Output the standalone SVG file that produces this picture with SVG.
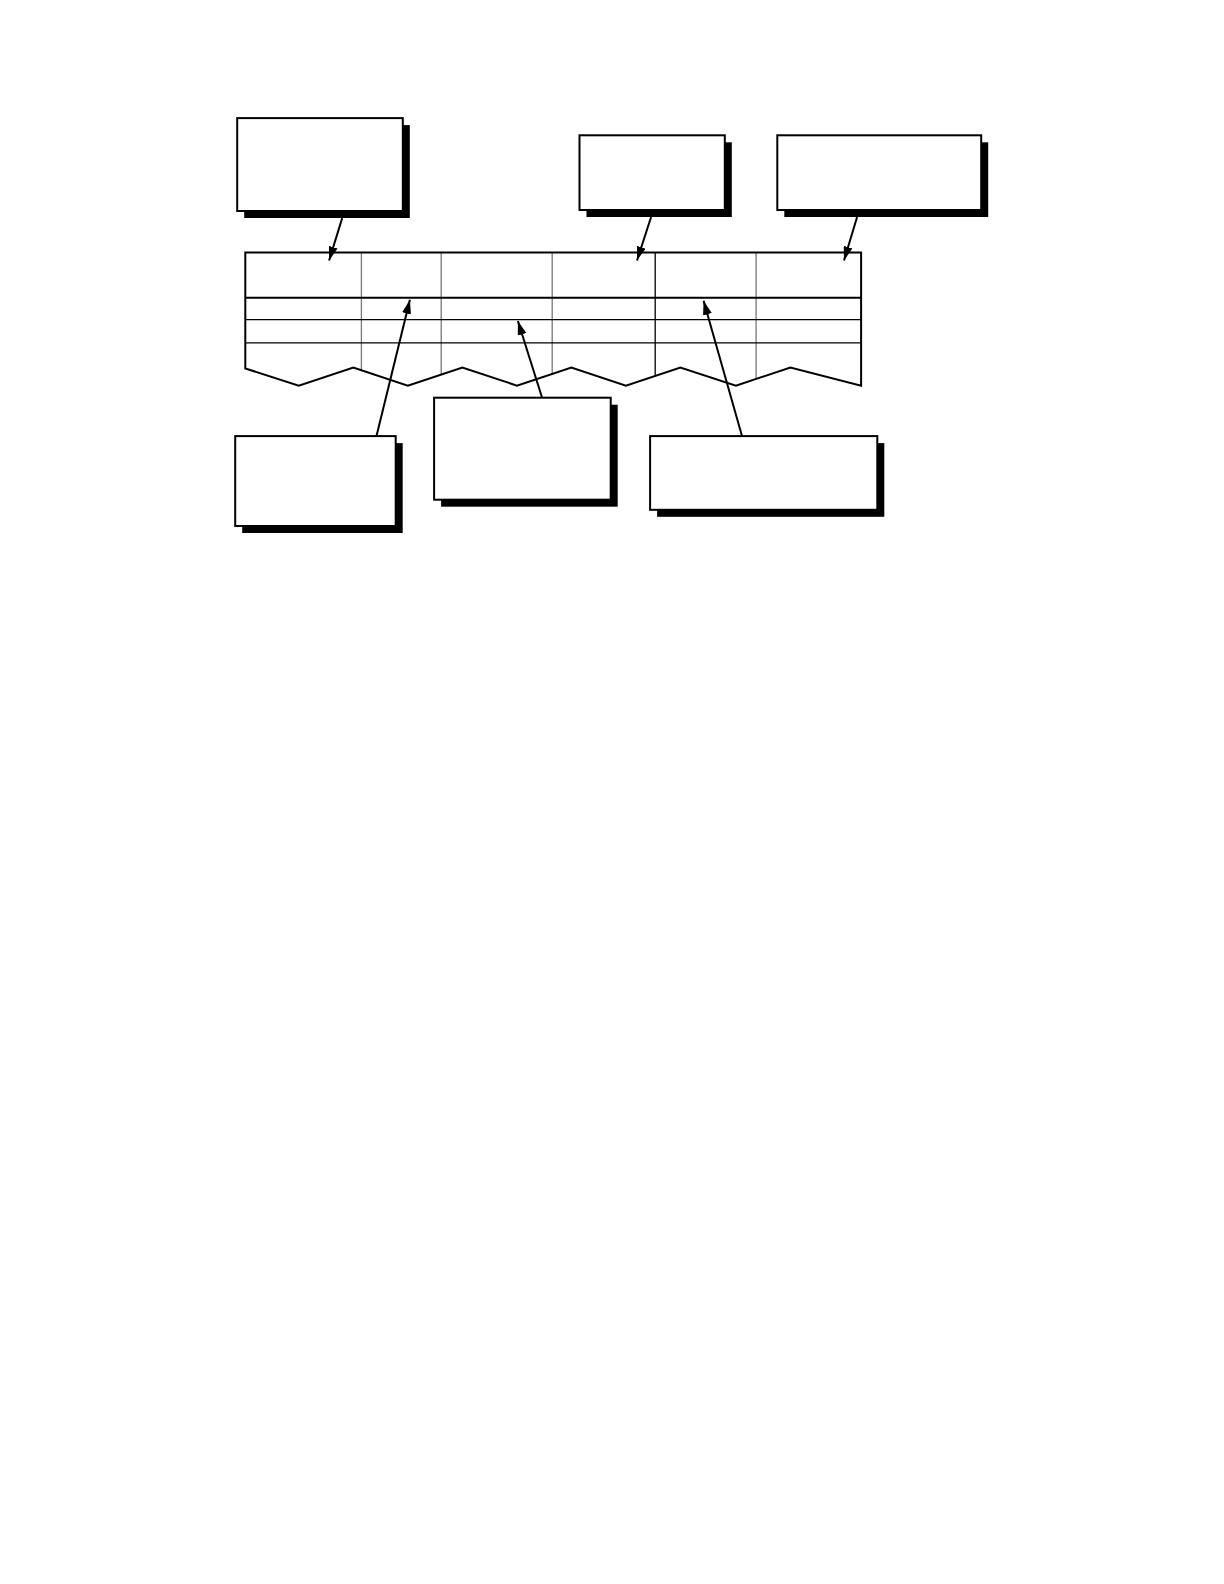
<svg xmlns="http://www.w3.org/2000/svg" width="1224" height="1584" viewBox="0 0 1224 1584">
<style>
.shadow{fill:#000}
.box{fill:#fff;stroke:#000;stroke-width:2}
.grid{stroke:#777;stroke-width:1.3;fill:none}
.hline{stroke:#000;stroke-width:1.3;fill:none}
.outline{stroke:#000;stroke-width:2;fill:none}
.conn{stroke:#000;stroke-width:2;fill:none}
</style>
<defs>
<marker id="ah" viewBox="0 0 14 9" refX="14" refY="4.5" markerWidth="14" markerHeight="9" markerUnits="userSpaceOnUse" orient="auto">
<path d="M0,0 L14,4.5 L0,9 Z" fill="#000"/>
</marker>
</defs>
<rect width="1224" height="1584" fill="#fff"/>
<g id="table">
<path class="grid" d="M361.4,252.4 V370.2 M441.2,252.4 V374.5 M552.2,252.4 V373.8 M756.1,252.4 V378.9"/>
<path class="hline" d="M655.2,252.4 V375.8"/>
<path class="hline" d="M245.3,319.6 H861.1 M245.3,342.8 H861.1"/>
<path class="outline" d="M245.3,297.8 H861.1"/>
<path class="outline" d="M245.3,368.5 V252.4 H861.1 V385.6 L790.4,367.5 L735.9,385.6 L680.4,367.5 L625.9,385.6 L571.4,367.5 L516.9,385.6 L462.4,367.5 L407.8,385.6 L353.3,367.5 L298.8,385.6 Z"/>
</g>
<g id="node1"><rect class="shadow" x="244.2" y="125.1" width="165.6" height="92.9"/><rect class="box" x="237.2" y="118.1" width="165.6" height="92.9"/></g>
<g id="node2"><rect class="shadow" x="586.5" y="142.3" width="145.3" height="74.7"/><rect class="box" x="579.5" y="135.3" width="145.3" height="74.7"/></g>
<g id="node3"><rect class="shadow" x="784.3" y="142.3" width="203.9" height="74.7"/><rect class="box" x="777.3" y="135.3" width="203.9" height="74.7"/></g>
<g id="node4"><rect class="shadow" x="242.2" y="443.1" width="160.5" height="89.9"/><rect class="box" x="235.2" y="436.1" width="160.5" height="89.9"/></g>
<g id="node5"><rect class="shadow" x="441.1" y="404.7" width="176.6" height="102"/><rect class="box" x="434.1" y="397.7" width="176.6" height="102"/></g>
<g id="node6"><rect class="shadow" x="657.1" y="443.1" width="227.2" height="73.7"/><rect class="box" x="650.1" y="436.1" width="227.2" height="73.7"/></g>
<g id="connectors">
<line class="conn" x1="342.2" y1="218.1" x2="329.1" y2="260.5" marker-end="url(#ah)"/>
<line class="conn" x1="651.1" y1="217" x2="637" y2="260.5" marker-end="url(#ah)"/>
<line class="conn" x1="857.1" y1="217" x2="844" y2="260.5" marker-end="url(#ah)"/>
<line class="conn" x1="376.5" y1="436.1" x2="409.9" y2="299.8" marker-end="url(#ah)"/>
<line class="conn" x1="542.1" y1="397.7" x2="517.9" y2="321" marker-end="url(#ah)"/>
<line class="conn" x1="742" y1="436.1" x2="703.6" y2="300.8" marker-end="url(#ah)"/>
</g>
</svg>
